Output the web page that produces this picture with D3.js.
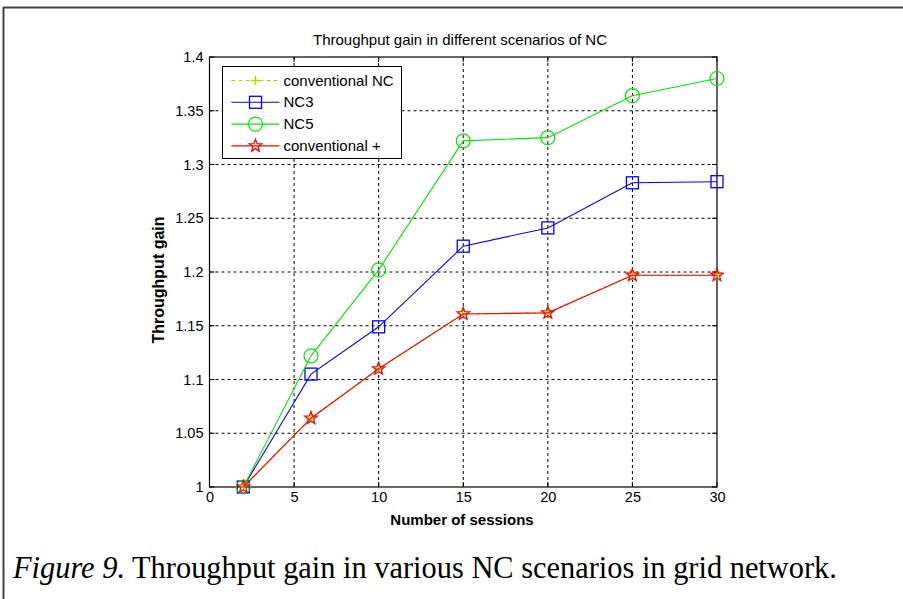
<!DOCTYPE html>
<html>
<head>
<meta charset="utf-8">
<script src="https://cdn.jsdelivr.net/npm/d3@7"></script>
<style>
  body { margin: 0; background: #fff; }
  svg { display: block; }
</style>
</head>
<body>
<div id="chart"></div>
<script>
// Data
const sessions = [2, 6, 10, 15, 20, 25, 30];
const conventionalNC = [1.0, 1.064, 1.110, 1.161, 1.162, 1.197, 1.197];
const nc3 = [1.0, 1.105, 1.149, 1.224, 1.241, 1.283, 1.284];
const nc5 = [1.0, 1.122, 1.202, 1.322, 1.325, 1.364, 1.380];
const conventionalPlus = [1.0, 1.064, 1.110, 1.161, 1.162, 1.197, 1.197];
const xTicks = [0, 5, 10, 15, 20, 25, 30];
const yTicks = [1, 1.05, 1.1, 1.15, 1.2, 1.25, 1.3, 1.35, 1.4];
const seriesNames = ["conventional NC", "NC3", "NC5", "conventional +"];

const W = 903, H = 599;
const plot = { left: 209.5, right: 717, top: 57, bottom: 487 };
const sans = "Liberation Sans, Arial, sans-serif";

const svg = d3.select("#chart").append("svg")
    .attr("width", W)
    .attr("height", H);

svg.append("rect").attr("width", W).attr("height", H).attr("fill", "#fff");

// Outer figure frame (top and left visible)
svg.append("path")
    .attr("d", `M3.5,${H} L3.5,7.5 L${W},7.5`)
    .attr("fill", "none")
    .attr("stroke", "#444")
    .attr("stroke-width", 2);

const x = d3.scaleLinear().domain([0, 30]).range([plot.left, plot.right]);
const y = d3.scaleLinear().domain([1, 1.4]).range([plot.bottom, plot.top]);

const g = svg.append("g");

// Grid lines
g.selectAll(".vgrid")
    .data(xTicks.slice(1, -1))
    .enter().append("line")
    .attr("x1", d => x(d)).attr("x2", d => x(d))
    .attr("y1", plot.top).attr("y2", plot.bottom)
    .attr("stroke", "#000").attr("stroke-width", 1)
    .attr("stroke-dasharray", "3,3");

g.selectAll(".hgrid")
    .data(yTicks.slice(1, -1))
    .enter().append("line")
    .attr("x1", plot.left).attr("x2", plot.right)
    .attr("y1", d => y(d)).attr("y2", d => y(d))
    .attr("stroke", "#000").attr("stroke-width", 1)
    .attr("stroke-dasharray", "3,3");

// Axes
const xAxis = d3.axisBottom(x).tickValues(xTicks).tickSize(0).tickPadding(5);
const yAxis = d3.axisLeft(y).tickValues(yTicks).tickSize(0).tickPadding(6)
    .tickFormat(d => String(+d.toFixed(2)));

g.append("g")
    .attr("transform", `translate(0,${plot.bottom})`)
    .call(xAxis)
    .call(a => a.select(".domain").remove())
    .selectAll("text")
    .attr("font-family", sans)
    .attr("font-size", 14.5)
    .attr("fill", "#000");

g.append("g")
    .attr("transform", `translate(${plot.left},0)`)
    .call(yAxis)
    .call(a => a.select(".domain").remove())
    .selectAll("text")
    .attr("font-family", sans)
    .attr("font-size", 14.5)
    .attr("fill", "#000");

// Box around plot
g.append("rect")
    .attr("x", plot.left).attr("y", plot.top)
    .attr("width", plot.right - plot.left)
    .attr("height", plot.bottom - plot.top)
    .attr("fill", "none")
    .attr("stroke", "#000").attr("stroke-width", 1.2);

// Inward ticks
xTicks.forEach(t => {
    g.append("line").attr("x1", x(t)).attr("x2", x(t))
        .attr("y1", plot.bottom).attr("y2", plot.bottom - 5).attr("stroke", "#000");
    g.append("line").attr("x1", x(t)).attr("x2", x(t))
        .attr("y1", plot.top).attr("y2", plot.top + 5).attr("stroke", "#000");
});
yTicks.forEach(t => {
    g.append("line").attr("x1", plot.left).attr("x2", plot.left + 5)
        .attr("y1", y(t)).attr("y2", y(t)).attr("stroke", "#000");
    g.append("line").attr("x1", plot.right).attr("x2", plot.right - 5)
        .attr("y1", y(t)).attr("y2", y(t)).attr("stroke", "#000");
});

// Titles
svg.append("text")
    .attr("x", 460)
    .attr("y", 45)
    .attr("text-anchor", "middle")
    .attr("font-family", sans)
    .attr("font-size", 15)
    .text("Throughput gain in different scenarios of NC");

svg.append("text")
    .attr("x", 462)
    .attr("y", 525)
    .attr("text-anchor", "middle")
    .attr("font-family", sans)
    .attr("font-size", 15)
    .attr("font-weight", "bold")
    .text("Number of sessions");

svg.append("text")
    .attr("transform", `translate(164,280) rotate(-90)`)
    .attr("text-anchor", "middle")
    .attr("font-family", sans)
    .attr("font-size", 16)
    .attr("font-weight", "bold")
    .text("Throughput gain");

// Caption (slightly condensed serif)
const cap = svg.append("text")
    .attr("transform", "translate(13,578) scale(0.95,1)")
    .attr("font-family", "Liberation Serif, Times New Roman, serif")
    .attr("font-size", 32)
    .attr("fill", "#000");
cap.append("tspan").attr("font-style", "italic").text("Figure 9.");
cap.append("tspan").text(" Throughput gain in various NC scenarios in grid network.");

// Marker drawing helpers
const starPath = (r) => {
    const pts = [];
    for (let i = 0; i < 10; i++) {
        const rad = i % 2 === 0 ? r : r * 0.42;
        const a = -Math.PI / 2 + i * Math.PI / 5;
        pts.push([rad * Math.cos(a), rad * Math.sin(a)]);
    }
    return "M" + pts.map(p => p.join(",")).join("L") + "Z";
};

function drawMarker(sel, type, color) {
    if (type === "plus") {
        sel.append("path").attr("d", "M-4.5,0H4.5M0,-4.5V4.5")
            .attr("stroke", color).attr("stroke-width", 1.3).attr("fill", "none");
    } else if (type === "square") {
        sel.append("rect").attr("x", -6).attr("y", -6).attr("width", 12).attr("height", 12)
            .attr("stroke", color).attr("stroke-width", 1.3).attr("fill", "none");
    } else if (type === "circle") {
        sel.append("circle").attr("r", 7)
            .attr("stroke", color).attr("stroke-width", 1.2).attr("fill", "none");
    } else if (type === "star") {
        sel.append("path").attr("d", starPath(6.5))
            .attr("stroke", color).attr("stroke-width", 1.3).attr("fill", "none");
    }
}

const series = [
    { name: seriesNames[0], values: conventionalNC, color: "#9ade00", dash: "4,3", marker: "plus" },
    { name: seriesNames[1], values: nc3, color: "#0000ff", dash: null, marker: "square" },
    { name: seriesNames[2], values: nc5, color: "#00e600", dash: null, marker: "circle" },
    { name: seriesNames[3], values: conventionalPlus, color: "#ff0000", dash: null, marker: "star" }
];

const line = d3.line()
    .x(d => x(d[0]))
    .y(d => y(d[1]));

series.forEach(s => {
    const pts = sessions.map((v, i) => [v, s.values[i]]);
    g.append("path")
        .datum(pts)
        .attr("d", line)
        .attr("fill", "none")
        .attr("stroke", s.color)
        .attr("stroke-width", 1.1)
        .attr("stroke-dasharray", s.dash);
    pts.forEach(p => {
        const m = g.append("g").attr("transform", `translate(${x(p[0])},${y(p[1])})`);
        drawMarker(m, s.marker, s.color);
    });
});

// Legend
const legend = svg.append("g").attr("transform", "translate(222.5,66.5)");
legend.append("rect")
    .attr("width", 179).attr("height", 92)
    .attr("fill", "#fff")
    .attr("stroke", "#000").attr("stroke-width", 1);

series.forEach((s, i) => {
    const ly = 14 + i * 21.8;
    legend.append("line")
        .attr("x1", 9).attr("x2", 57)
        .attr("y1", ly).attr("y2", ly)
        .attr("stroke", s.color).attr("stroke-width", 1.1)
        .attr("stroke-dasharray", s.dash);
    const m = legend.append("g").attr("transform", `translate(33,${ly})`);
    drawMarker(m, s.marker, s.color);
    legend.append("text")
        .attr("x", 61).attr("y", ly + 5)
        .attr("font-family", sans)
        .attr("font-size", 15)
        .text(s.name);
});
</script>
</body>
</html>
